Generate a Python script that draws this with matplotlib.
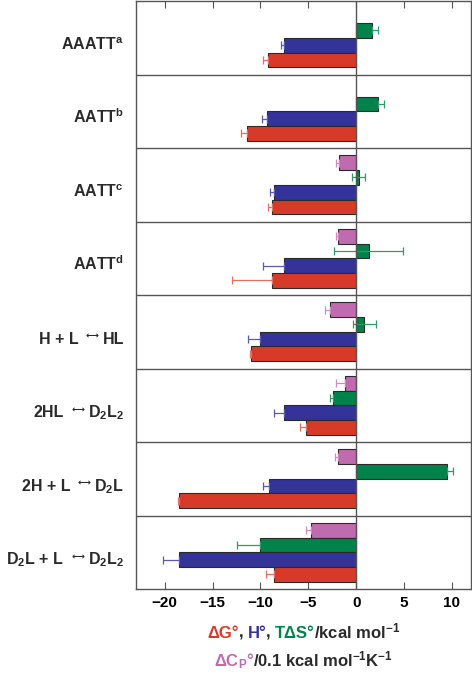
import matplotlib
matplotlib.use('Agg')
import matplotlib.pyplot as plt
import numpy as np

plt.rcParams['font.family'] = ['Liberation Sans', 'DejaVu Sans']
plt.rcParams['font.weight'] = 'bold'
plt.rcParams['mathtext.fontset'] = 'custom'
plt.rcParams['mathtext.rm'] = 'Liberation Sans:bold'
plt.rcParams['mathtext.it'] = 'Liberation Sans:bold'
plt.rcParams['mathtext.bf'] = 'Liberation Sans:bold'
plt.rcParams['mathtext.sf'] = 'Liberation Sans:bold'

# row labels: (left part, right part) -- right part empty means no arrow
label_left = [r'AAATT$^{\mathrm{a}}$', r'AATT$^{\mathrm{b}}$', r'AATT$^{\mathrm{c}}$',
              r'AATT$^{\mathrm{d}}$', 'H + L', '2HL', '2H + L', r'D$_2$L + L']
label_right = ['', '', '', '', 'HL', r'D$_2$L$_2$', r'D$_2$L', r'D$_2$L$_2$']

# values (kcal/mol; dCp in 0.1 kcal/mol/K)
dG = [-9.2, -11.45, -8.8, -8.75, -10.95, -5.25, -18.55, -8.6]
dG_err = [0.5, 0.6, 0.4, 4.25, 0.1, 0.65, 0.1, 0.85]
dH = [-7.55, -9.3, -8.6, -7.5, -10.05, -7.55, -9.15, -18.55]
dH_err = [0.35, 0.5, 0.4, 2.2, 1.2, 1.05, 0.55, 1.65]
TdS = [1.7, 2.25, 0.25, 1.3, 0.85, -2.4, 9.45, -10.05]
TdS_err_lo = [0, 0, 0.65, 3.6, 1.15, 0.35, 0, 2.4]
TdS_err_hi = [0.6, 0.7, 0.65, 3.6, 1.2, 0, 0.65, 0]
dCp = [np.nan, np.nan, -1.8, -1.85, -2.7, -1.15, -1.85, -4.7]
dCp_err = [np.nan, np.nan, 0.35, 0.3, 0.55, 1.0, 0.4, 0.5]

red, blue, green, purple = '#d83a2a', '#33339a', '#00834a', '#c06ab0'
red_e, blue_e, green_e, purple_e = '#e2715f', '#5a5ab0', '#2f9a6a', '#d08ac4'
dark = '#2a2a2a'

fig = plt.figure(figsize=(4.72, 6.75), dpi=100)
ax = fig.add_axes([0.288, 0.1274, 0.71, 0.871])

n = len(dG)
idx = np.arange(n)
h = 0.2
zeros = np.zeros(n)

series = [
    (dCp, [dCp_err, zeros], 0.2, purple, purple_e),
    (TdS, [TdS_err_lo, TdS_err_hi], 0.4, green, green_e),
    (dH, [dH_err, zeros], 0.6, blue, blue_e),
    (dG, [dG_err, zeros], 0.8, red, red_e),
]
for vals, err, off, col, ecol in series:
    y = idx + off
    ax.errorbar(vals, y, xerr=np.array(err, dtype=float), fmt='none', ecolor=ecol,
                elinewidth=0.9, capsize=3, capthick=0.9, zorder=3)
    ax.barh(y, vals, height=h, color=col, edgecolor=dark, linewidth=0.8, zorder=2)

for k in range(1, n):
    ax.axhline(k, color='#555555', lw=1, zorder=1)
ax.axvline(0, color='#555555', lw=1, zorder=4)

ax.set_xlim(-23, 12)
ax.set_ylim(n, 0)
ax.set_xticks([-20, -15, -10, -5, 0, 5, 10])
ax.set_xticklabels(['\u221220', '\u221215', '\u221210', '\u22125', '0', '5', '10'])
ax.set_yticks([])
ax.tick_params(axis='x', direction='in', top=True, length=5, width=0.8,
               labelsize=11, pad=5, color='#555555')
for s in ax.spines.values():
    s.set_color('#555555')
    s.set_linewidth(1)

renderer = fig.canvas.get_renderer()


def draw_pieces(x, y, pieces, ha):
    # pieces: (text, color, size, dy, gap_after, family)
    made = []
    total = 0
    for s, c, fs, dy, gap, fam in pieces:
        kw = {'family': fam} if fam else {}
        t = fig.text(0, 0, s, color=c, fontsize=fs, fontweight='bold',
                     va='baseline', ha='left', transform=None, **kw)
        w = t.get_window_extent(renderer).width
        made.append((t, w, dy, gap))
        total += w + gap
    total -= made[-1][3]
    if ha == 'right':
        cx = x - total
    else:
        cx = x - total / 2
    for t, w, dy, gap in made:
        t.set_position((cx, y + dy))
        cx += w + gap


for i in range(n):
    yb = ax.transData.transform((0, i + 0.665))[1]
    if label_right[i]:
        pieces = [(label_left[i], dark, 11.5, 0, 7, None),
                  ('\u27f7', dark, 6.5, 5, 4, 'DejaVu Sans'),
                  (label_right[i], dark, 11.5, 0, 0, None)]
    else:
        pieces = [(label_left[i], dark, 11.5, 0, 0, None)]
    draw_pieces(124, yb, pieces, 'right')

xc = (ax.transAxes.transform((0.5, 0)))[0]
draw_pieces(xc, 37, [('\u0394G\u00b0', red, 12, 0, 0, None),
                     (',', dark, 12, 0, 4, None),
                     ('H\u00b0', blue, 12, 0, 0, None),
                     (',', dark, 12, 0, 4, None),
                     ('T\u0394S\u00b0', green, 12, 0, -1, None),
                     ('/kcal mol$^{\u22121}$', dark, 12, 0, 0, None)], 'center')
draw_pieces(xc, 9, [('\u0394C$_{\\mathrm{P}}$\u00b0', purple, 12, 0, -1, None),
                    ('/0.1 kcal mol$^{\u22121}$K$^{\u22121}$', dark, 12, 0, 0, None)], 'center')

fig.savefig('out.png', dpi=100)
